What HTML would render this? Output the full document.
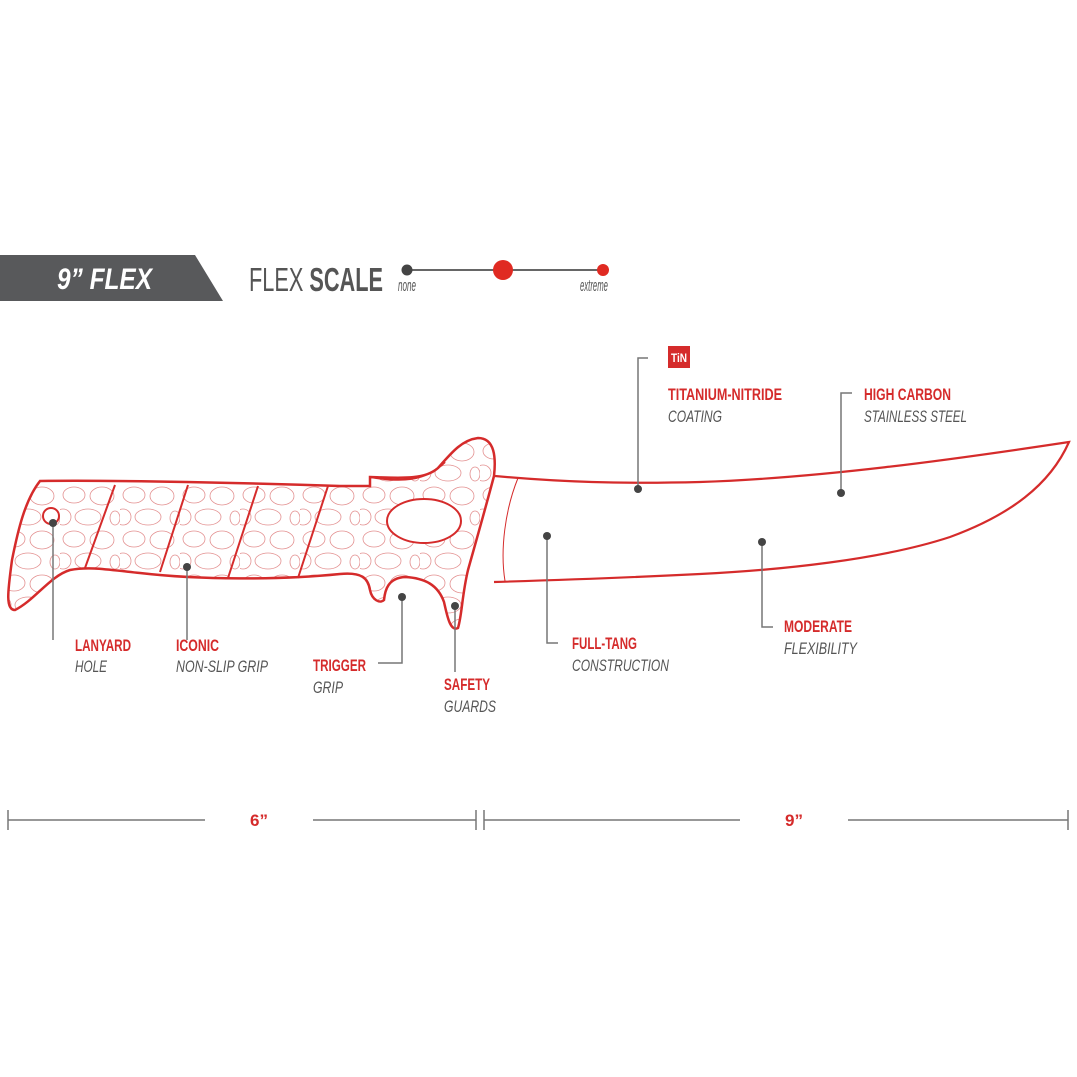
<!DOCTYPE html>
<html><head><meta charset="utf-8"><style>
html,body{margin:0;padding:0;background:#fff}
svg{display:block}
.r{fill:#d52b2b;font-family:"Liberation Sans",sans-serif;font-weight:bold;font-size:17px}
.g{fill:#555;font-family:"Liberation Sans",sans-serif;font-style:italic;font-size:17px}
.ln{stroke:#777;stroke-width:1.5;fill:none}
.dt{fill:#444}
</style></head><body>
<svg width="1077" height="1077" viewBox="0 0 1077 1077" xmlns="http://www.w3.org/2000/svg">
<defs>
<pattern id="st" width="60" height="44" patternUnits="userSpaceOnUse">
<ellipse cx="14" cy="11" rx="11" ry="8" fill="none" stroke="#e39090" stroke-width="0.8"/>
<ellipse cx="42" cy="12" rx="12" ry="9" fill="none" stroke="#e39090" stroke-width="0.8"/>
<ellipse cx="28" cy="33" rx="13" ry="8" fill="none" stroke="#e39090" stroke-width="0.8"/>
<ellipse cx="3" cy="33" rx="8" ry="8" fill="none" stroke="#e39090" stroke-width="0.8"/>
<ellipse cx="55" cy="34" rx="5" ry="7" fill="none" stroke="#e39090" stroke-width="0.8"/>
</pattern>
</defs>
<polygon points="0,255 195,255 223,301 0,301" fill="#58595b"/>
<text x="57" y="289" fill="#fff" font-family="'Liberation Sans',sans-serif" font-weight="bold" font-style="italic" font-size="30" textLength="95" lengthAdjust="spacingAndGlyphs">9” FLEX</text>
<text x="249" y="291" fill="#555" font-family="'Liberation Sans',sans-serif" font-size="33" textLength="134" lengthAdjust="spacingAndGlyphs">FLEX <tspan font-weight="bold">SCALE</tspan></text>
<line x1="407" y1="270" x2="603" y2="270" stroke="#666" stroke-width="2"/>
<circle cx="407" cy="270" r="5.5" fill="#444"/>
<circle cx="503" cy="270" r="10" fill="#e02a22"/>
<circle cx="603" cy="270" r="6" fill="#e02a22"/>
<text x="398" y="291" class="g" font-size="8" textLength="18" lengthAdjust="spacingAndGlyphs">none</text>
<text x="580" y="291" class="g" font-size="8" textLength="28" lengthAdjust="spacingAndGlyphs">extreme</text>

<path d="M495,476 C560,482 620,484 700,482 C820,478 950,460 1069,442 C1050,485 1010,515 950,537 C880,560 780,570 700,574 C620,578 560,580 494,582" fill="none" stroke="#d52b2b" stroke-width="2.2"/>
<path d="M518,478 C505,510 500,550 505,581" fill="none" stroke="#d52b2b" stroke-width="1"/>
<path d="M40,481 C120,480 250,483 340,486 L370,486 L370,477 C400,478 425,480 438,468 C452,452 462,440 478,438 C495,438 496,458 494,476 C485,510 475,545 468,570 C462,595 462,615 458,628 C450,632 447,615 444,602 C438,585 425,578 405,577 C388,578 385,590 384,600 C380,604 372,600 370,590 C368,578 362,572 340,574 C280,580 200,580 140,573 C110,570 90,566 70,570 C50,576 35,600 15,610 C5,610 8,590 12,560 C18,530 25,500 40,481 Z" fill="url(#st)" stroke="#d52b2b" stroke-width="2.5"/>
<g stroke="#d52b2b" stroke-width="2" fill="none">
<path d="M115,485 L85,568"/><path d="M188,485 L160,572"/><path d="M258,486 L228,578"/><path d="M328,486 L298,578"/>
<path d="M370,477 C400,482 425,482 445,462"/>
</g>
<ellipse cx="424" cy="521" rx="37" ry="22" fill="#fff" stroke="#d52b2b" stroke-width="2"/>
<circle cx="51" cy="516" r="8" fill="#fff" stroke="#d52b2b" stroke-width="2"/>

<path class="ln" d="M53,523 V640"/><circle class="dt" cx="53" cy="523" r="4"/>
<text x="75" y="651" class="r" textLength="56" lengthAdjust="spacingAndGlyphs">LANYARD</text><text x="75" y="672" class="g" textLength="32" lengthAdjust="spacingAndGlyphs">HOLE</text>
<path class="ln" d="M187,567 V640"/><circle class="dt" cx="187" cy="567" r="4"/>
<text x="176" y="651" class="r" textLength="43" lengthAdjust="spacingAndGlyphs">ICONIC</text><text x="176" y="672" class="g" textLength="92" lengthAdjust="spacingAndGlyphs">NON-SLIP GRIP</text>
<path class="ln" d="M402,597 V663 H378"/><circle class="dt" cx="402" cy="597" r="4"/>
<text x="313" y="671" class="r" textLength="53" lengthAdjust="spacingAndGlyphs">TRIGGER</text><text x="313" y="693" class="g" textLength="30" lengthAdjust="spacingAndGlyphs">GRIP</text>
<path class="ln" d="M455,606 V672"/><circle class="dt" cx="455" cy="606" r="4"/>
<text x="444" y="690" class="r" textLength="46" lengthAdjust="spacingAndGlyphs">SAFETY</text><text x="444" y="712" class="g" textLength="52" lengthAdjust="spacingAndGlyphs">GUARDS</text>
<path class="ln" d="M547,536 V643 H558"/><circle class="dt" cx="547" cy="536" r="4"/>
<text x="572" y="649" class="r" textLength="65" lengthAdjust="spacingAndGlyphs">FULL-TANG</text><text x="572" y="671" class="g" textLength="97" lengthAdjust="spacingAndGlyphs">CONSTRUCTION</text>
<path class="ln" d="M762,542 V627 H773"/><circle class="dt" cx="762" cy="542" r="4"/>
<text x="784" y="632" class="r" textLength="68" lengthAdjust="spacingAndGlyphs">MODERATE</text><text x="784" y="654" class="g" textLength="73" lengthAdjust="spacingAndGlyphs">FLEXIBILITY</text>
<path class="ln" d="M638,489 V358 H648"/><circle class="dt" cx="638" cy="489" r="4"/>
<rect x="668" y="346" width="22" height="22" fill="#d52b2b"/>
<text x="671" y="362" fill="#fff" font-family="'Liberation Sans',sans-serif" font-weight="bold" font-size="12" textLength="16" lengthAdjust="spacingAndGlyphs">TiN</text>
<text x="668" y="400" class="r" textLength="114" lengthAdjust="spacingAndGlyphs">TITANIUM-NITRIDE</text><text x="668" y="422" class="g" textLength="54" lengthAdjust="spacingAndGlyphs">COATING</text>
<path class="ln" d="M841,493 V393 H852"/><circle class="dt" cx="841" cy="493" r="4"/>
<text x="864" y="400" class="r" textLength="87" lengthAdjust="spacingAndGlyphs">HIGH CARBON</text><text x="864" y="422" class="g" textLength="103" lengthAdjust="spacingAndGlyphs">STAINLESS STEEL</text>

<g stroke="#777" stroke-width="1.5">
<line x1="8" y1="820" x2="205" y2="820"/><line x1="313" y1="820" x2="476" y2="820"/>
<line x1="8" y1="810" x2="8" y2="830"/><line x1="476" y1="810" x2="476" y2="830"/>
<line x1="484" y1="820" x2="740" y2="820"/><line x1="848" y1="820" x2="1068" y2="820"/>
<line x1="484" y1="810" x2="484" y2="830"/><line x1="1068" y1="810" x2="1068" y2="830"/>
</g>
<text x="250" y="826" class="r" textLength="18" lengthAdjust="spacingAndGlyphs">6”</text>
<text x="785" y="826" class="r" textLength="18" lengthAdjust="spacingAndGlyphs">9”</text>
</svg>
</body></html>
